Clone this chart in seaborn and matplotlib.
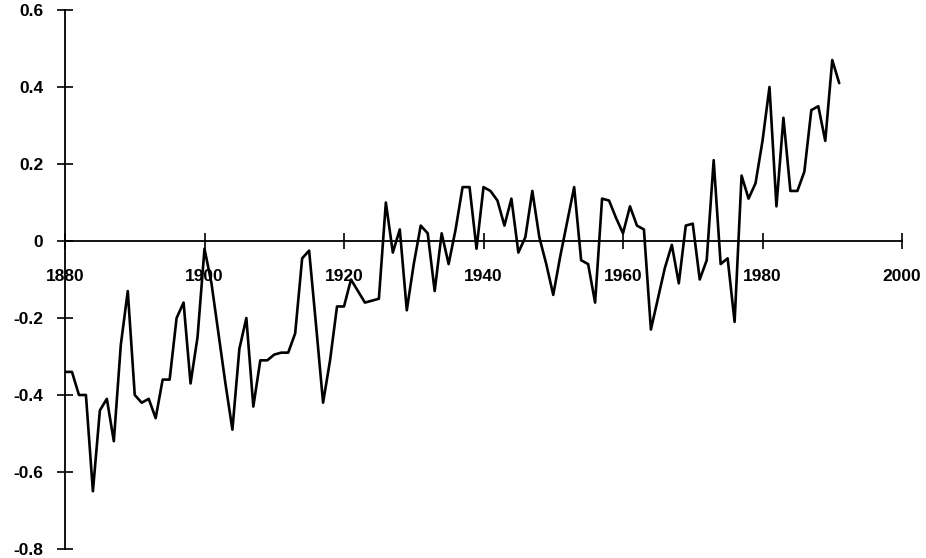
import matplotlib
matplotlib.use("Agg")
import matplotlib.pyplot as plt
import seaborn as sns
import numpy as np
import pandas as pd

# annual temperature anomaly
years = list(range(1880, 1992))
anomaly = [
    -0.34, -0.34, -0.40, -0.40, -0.65, -0.44, -0.41, -0.52, -0.27, -0.13,   # 1880s
    -0.40, -0.42, -0.41, -0.46, -0.36, -0.36, -0.20, -0.16, -0.37, -0.25,   # 1890s
    -0.02, -0.11, -0.24, -0.37, -0.49, -0.28, -0.20, -0.43, -0.31, -0.31,   # 1900s
    -0.295, -0.29, -0.29, -0.24, -0.045, -0.025, -0.22, -0.42, -0.31, -0.17,  # 1910s
    -0.17, -0.10, -0.13, -0.16, -0.155, -0.15, 0.10, -0.03, 0.03, -0.18,    # 1920s
    -0.06, 0.04, 0.02, -0.13, 0.02, -0.06, 0.03, 0.14, 0.14, -0.02,         # 1930s
    0.14, 0.13, 0.105, 0.04, 0.11, -0.03, 0.01, 0.13, 0.01, -0.06,          # 1940s
    -0.14, -0.04, 0.05, 0.14, -0.05, -0.06, -0.16, 0.11, 0.105, 0.06,       # 1950s
    0.02, 0.09, 0.04, 0.03, -0.23, -0.15, -0.07, -0.01, -0.11, 0.04,        # 1960s
    0.045, -0.10, -0.05, 0.21, -0.06, -0.045, -0.21, 0.17, 0.11, 0.15,      # 1970s
    0.26, 0.40, 0.09, 0.32, 0.13, 0.13, 0.18, 0.34, 0.35, 0.26,             # 1980s
    0.47, 0.41,                                                             # 1990s
]
x_ticks = [1880, 1900, 1920, 1940, 1960, 1980, 2000]
y_ticks = [0.6, 0.4, 0.2, 0, -0.2, -0.4, -0.6, -0.8]

df = pd.DataFrame({"year": years, "anomaly": anomaly})

sns.set_style("white")
plt.rcParams["font.family"] = ["Liberation Sans", "DejaVu Sans"]
plt.rcParams["axes.unicode_minus"] = False

fig = plt.figure(figsize=(9.26, 5.58), dpi=100)
ax = fig.add_axes([65 / 926, 1 - 549 / 558, (902 - 65) / 926, (549 - 10) / 558])

sns.lineplot(data=df, x="year", y="anomaly", ax=ax, color="black", linewidth=1.9)

ax.set_xlim(1880, 2000)
ax.set_ylim(-0.8, 0.6)
ax.set_xlabel("")
ax.set_ylabel("")

# spreadsheet-style axes: x axis runs along zero, y axis on the left edge
for side in ["top", "right"]:
    ax.spines[side].set_visible(False)
ax.spines["bottom"].set_position(("data", 0))
ax.spines["bottom"].set_linewidth(1.3)
ax.spines["left"].set_linewidth(1.3)
ax.spines["bottom"].set_color("black")
ax.spines["left"].set_color("black")

ax.set_xticks(x_ticks)
ax.set_xticklabels([str(v) for v in x_ticks])
ax.set_yticks(y_ticks)
ax.set_yticklabels(["{:g}".format(v) for v in y_ticks])

ax.tick_params(axis="x", bottom=True, direction="inout", length=11, width=1.2,
               pad=15, labelsize=12.5, colors="black")
ax.tick_params(axis="y", left=True, direction="inout", length=11, width=1.2,
               pad=10, labelsize=12.5, colors="black")
for lbl in ax.get_xticklabels() + ax.get_yticklabels():
    lbl.set_fontweight("bold")

fig.savefig("out.png", dpi=100, facecolor="white")
